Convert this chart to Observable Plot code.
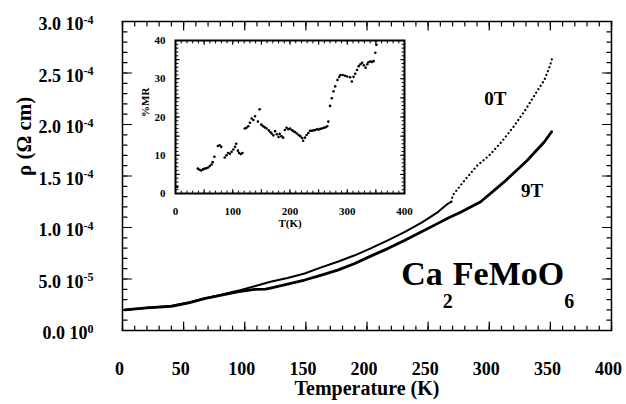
<!DOCTYPE html>
<html><head><meta charset="utf-8">
<script src="https://cdn.jsdelivr.net/npm/d3@7"></script>
<script src="https://cdn.jsdelivr.net/npm/@observablehq/plot@0.6"></script>
<style>
body{margin:0;background:#fff;}
#wrap{position:relative;width:626px;height:404px;overflow:hidden;}
#main{position:absolute;left:0;top:0;}
#inset{position:absolute;left:130px;top:30px;}
</style></head><body><div id="wrap"><div id="main"></div><div id="inset"></div></div>
<script>
// ---- Main data: resistivity (units of 1e-5 Ohm cm) vs temperature (K) ----
const temp0T = [2, 20, 40, 55, 67, 80, 94, 108, 121, 135, 149, 162, 176, 190, 203, 217, 231, 245, 258, 266, 269,
                270, 280, 290, 300, 310, 320, 330, 340, 345, 349, 352];
const rho0T  = [2.0, 2.2, 2.4, 2.75, 3.12, 3.45, 3.85, 4.3, 4.73, 5.1, 5.54, 6.1, 6.67, 7.3, 7.97, 8.75, 9.57, 10.5, 11.5, 12.3, 12.5,
                13.1, 14.6, 16.0, 17.0, 18.3, 19.8, 21.5, 23.4, 24.3, 25.5, 26.6];
const temp9T = [2, 20, 40, 55, 67, 80, 94, 108, 117, 121, 135, 149, 162, 176, 190, 203, 217, 231, 245, 258, 266, 277, 293, 312, 331, 345, 351];
const rho9T  = [2.0, 2.2, 2.35, 2.7, 3.1, 3.4, 3.76, 4.0, 4.02, 4.12, 4.5, 4.9, 5.35, 5.86, 6.5, 7.22, 7.95, 8.77, 9.6, 10.4, 10.9, 11.5, 12.5, 14.4, 16.5, 18.3, 19.3];
const dottedFrom = 270;

// ---- Inset data: %MR vs T ----
const insetT = [3, 39, 42, 45, 48, 51, 54, 57, 60, 63, 65, 68, 74, 77, 80, 86, 89, 92, 95, 98, 101, 104, 106, 109, 111, 114, 117,
  121, 124, 127, 130, 133, 136, 139, 144, 147, 150, 153, 156, 159, 163, 166, 168, 171, 174, 177, 180, 182, 185, 188,
  191, 194, 197, 200, 203, 206, 209, 212, 215, 218, 221, 223, 226, 229, 232, 235, 238, 241, 244, 247, 250, 253, 256,
  259, 262, 265, 267, 270, 273, 276, 279, 283, 286, 288, 292, 296, 300, 305, 308, 311, 314, 317, 320, 323, 326, 329,
  332, 335, 337, 340, 343, 346, 349, 351];
const insetMR = [1.7, 6.5, 6.2, 6.0, 6.3, 6.5, 6.6, 6.8, 7.2, 7.6, 8.2, 9.6, 12.4, 12.6, 12.2, 9.4, 10.0, 10.6, 10.4, 10.9, 11.5, 12.2, 13.0, 11.2, 10.6, 10.3, 10.6,
  17.0, 17.2, 17.6, 18.5, 19.6, 19.2, 20.2, 18.8, 22.0, 18.0, 17.6, 17.3, 17.0, 16.5, 16.0, 15.7, 15.2, 16.3, 15.5, 14.8, 15.6, 15.0, 14.6,
  16.6, 17.2, 16.8, 17.0, 16.6, 16.3, 16.0, 15.7, 15.3, 15.0, 14.5, 13.8, 14.6, 15.3, 15.8, 16.4, 16.4, 16.5, 16.6, 16.8, 16.7, 16.9, 17.0,
  17.2, 17.3, 17.6, 18.8, 22.9, 24.9, 26.7, 28.0, 29.7, 30.5, 31.0, 31.0, 30.8, 30.6, 30.4, 29.3, 30.5, 31.3, 32.3, 33.3, 33.8, 34.2, 33.5,
  32.9, 33.8, 34.3, 34.5, 34.4, 34.6, 36.8, 38.9];

// ---- Ticks and labels ----
const xTicks = [0, 50, 100, 150, 200, 250, 300, 350, 400];
const yTicks = [0, 5, 10, 15, 20, 25, 30];
const yTickMantissa = ["0.0", "5.0", "1.0", "1.5", "2.0", "2.5", "3.0"];
const yTickExponent = ["0", "-5", "-4", "-4", "-4", "-4", "-4"];
const insetXTicks = [0, 100, 200, 300, 400];
const insetYTicks = [0, 10, 20, 30, 40];
const xTitle = "Temperature (K)";
const yTitle = "ρ (Ω cm)";
const insetXTitle = "T(K)";
const insetYTitle = "%MR";

// ---- Annotations (data coordinates) ----
const annLabels = ["0T", "9T"];
const annT = [305, 335];
const annRho = [22.5, 13.6];
const formula = "Ca2FeMoO6";
const formulaT = 228, formulaRho = 4.4;

const data0T = temp0T.map((t, i) => ({T: t, rho: rho0T[i]}));
const data9T = temp9T.map((t, i) => ({T: t, rho: rho9T[i]}));
const insetData = insetT.map((t, i) => ({T: t, mr: insetMR[i]}));
const annData = annLabels.map((s, i) => ({label: s, T: annT[i], rho: annRho[i]}));
const yLabelMap = new Map(yTicks.map((v, i) => [v, yTickMantissa[i] + "|" + yTickExponent[i]]));

const serif = "'Liberation Serif','Times New Roman',Times,serif";

// inward tick marks as short two-point segments (one z group per tick), length given in pixels
function tickSegs(values, axis, anchor, lenPx, xDom, yDom, innerW, innerH) {
  const kx = (xDom[1] - xDom[0]) / innerW, ky = (yDom[1] - yDom[0]) / innerH;
  const out = [];
  values.forEach((v, i) => {
    const id = axis + anchor + lenPx + "_" + i;
    if (axis === "x") {
      const y0 = anchor === "bottom" ? yDom[0] : yDom[1];
      const y1 = anchor === "bottom" ? y0 + lenPx * ky : y0 - lenPx * ky;
      out.push({x: v, y: y0, id}, {x: v, y: y1, id});
    } else {
      const x0 = anchor === "left" ? xDom[0] : xDom[1];
      const x1 = anchor === "left" ? x0 + lenPx * kx : x0 - lenPx * kx;
      out.push({x: x0, y: v, id}, {x: x1, y: v, id});
    }
  });
  return out;
}
function tickLines(spec, xDom, yDom, innerW, innerH, sw) {
  const segs = [];
  for (const [values, axis, anchor, len] of spec) segs.push(...tickSegs(values, axis, anchor, len, xDom, yDom, innerW, innerH));
  return Plot.line(segs, {x: "x", y: "y", z: "id", stroke: "black", strokeWidth: sw});
}

const W = 626, H = 404, mL = 122, mR = 15, mT = 21, mB = 74;
const mW = W - mL - mR, mH = H - mT - mB;
const xDomMain = [0, 400], yDomMain = [0, 30];
const xMinor = d3.range(0, 401, 10), yMinor = d3.range(0, 31, 1);
const main = Plot.plot({
  width: W, height: H,
  marginLeft: mL, marginRight: mR, marginTop: mT, marginBottom: mB,
  style: {fontFamily: serif, fontWeight: "bold", background: "white", color: "black", overflow: "visible"},
  x: {domain: xDomMain},
  y: {domain: yDomMain},
  marks: [
    tickLines([
      [xMinor, "x", "bottom", 4.5], [xTicks, "x", "bottom", 8.5],
      [xMinor, "x", "top", 4.5], [xTicks, "x", "top", 8.5],
      [yMinor, "y", "left", 4.5], [yTicks, "y", "left", 9],
      [yMinor, "y", "right", 4.5], [yTicks, "y", "right", 9]
    ], xDomMain, yDomMain, mW, mH, 1.2),
    Plot.axisX({anchor: "bottom", ticks: xTicks, tickSize: 0, tickPadding: 32, fontSize: 18, label: null, dx: -3}),
    Plot.axisY({anchor: "left", ticks: yTicks, tickSize: 0, tickPadding: 29, fontSize: 18, label: null, dy: 3,
      tickFormat: d => yLabelMap.get(d)}),
    Plot.text([xTitle], {frameAnchor: "bottom", dy: 64, fontSize: 20, fontWeight: "bold"}),
    Plot.text([yTitle], {frameAnchor: "left", dx: -98, rotate: -90, fontSize: 21, fontWeight: "bold"}),
    Plot.line(data0T.filter(d => d.T < dottedFrom), {x: "T", y: "rho", stroke: "black", strokeWidth: 2}),
    Plot.line(data0T.filter(d => d.T >= dottedFrom - 1), {x: "T", y: "rho", stroke: "black", strokeWidth: 2.2,
      strokeDasharray: "0.1,4", strokeLinecap: "round"}),
    Plot.line(data9T, {x: "T", y: "rho", stroke: "black", strokeWidth: 2.8}),
    Plot.text(annData, {x: "T", y: "rho", text: "label", fontSize: 19, fontWeight: "bold"}),
    Plot.text([formula], {x: () => formulaT, y: () => formulaRho, textAnchor: "start", lineAnchor: "bottom",
      fontSize: 34, fontWeight: "bold"}),
    Plot.frame({stroke: "black", strokeWidth: 1.5})
  ]
});

// superscripts on y tick labels; subscripts in the formula
d3.select(main).selectAll("text").each(function () {
  const t = d3.select(this);
  const s = t.text();
  if (s.includes("|")) {
    const [m, e] = s.split("|");
    t.text(null);
    t.append("tspan").text(m + " 10");
    t.append("tspan").attr("dy", "-0.55em").attr("font-size", 12).text(e);
  } else if (s === formula) {
    t.text(null);
    t.append("tspan").text("Ca");
    t.append("tspan").attr("font-size", 20).attr("dy", 23).text("2");
    t.append("tspan").attr("dy", -23).text("FeMoO");
    t.append("tspan").attr("font-size", 20).attr("dy", 23).text("6");
  }
});
document.getElementById("main").appendChild(main);

const iW = 280, iH = 202, iL = 45, iR = 6, iT = 10, iB = 39;
const iw = iW - iL - iR, ih = iH - iT - iB;
const xDomInset = [0, 400], yDomInset = [0, 40];
const ixMinor = d3.range(0, 401, 10), ixMajor = d3.range(0, 401, 50);
const iyMinor = d3.range(0, 41, 1), iyMajor = d3.range(0, 41, 5);
const inset = Plot.plot({
  width: iW, height: iH,
  marginLeft: iL, marginRight: iR, marginTop: iT, marginBottom: iB,
  style: {fontFamily: serif, fontWeight: "bold", background: "transparent", color: "black", overflow: "visible"},
  x: {domain: xDomInset},
  y: {domain: yDomInset},
  marks: [
    tickLines([
      [ixMinor, "x", "bottom", 2.5], [ixMajor, "x", "bottom", 4],
      [ixMinor, "x", "top", 2.5], [ixMajor, "x", "top", 4],
      [iyMinor, "y", "left", 2.5], [iyMajor, "y", "left", 4],
      [iyMinor, "y", "right", 2.5], [iyMajor, "y", "right", 4]
    ], xDomInset, yDomInset, iw, ih, 1),
    Plot.axisX({anchor: "bottom", ticks: insetXTicks, tickSize: 0, tickPadding: 14, fontSize: 11, label: null}),
    Plot.axisY({anchor: "left", ticks: insetYTicks, tickSize: 0, tickPadding: 10, fontSize: 11, label: null}),
    Plot.text([insetXTitle], {frameAnchor: "bottom", dy: 33, fontSize: 11, fontWeight: "bold"}),
    Plot.text([insetYTitle], {frameAnchor: "left", dx: -30, rotate: -90, fontSize: 11, fontWeight: "bold"}),
    Plot.dot(insetData, {x: "T", y: "mr", r: 1.3, fill: "black"}),
    Plot.frame({stroke: "black", strokeWidth: 2})
  ]
});
document.getElementById("inset").appendChild(inset);
</script>
</body></html>
